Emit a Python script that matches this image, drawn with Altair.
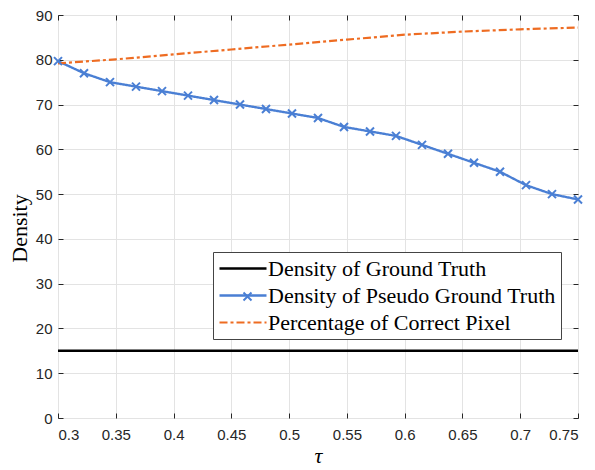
import altair as alt
import pandas as pd

# ---- data ----
series_names = ["Density of Ground Truth", "Density of Pseudo Ground Truth", "Percentage of Correct Pixel"]

tau_gt = [0.3, 0.75]
density_gt = [15, 15]

tau_pseudo = [0.3, 0.3225, 0.345, 0.3675, 0.39, 0.4125, 0.435, 0.4575, 0.48, 0.5025, 0.525,
              0.5475, 0.57, 0.5925, 0.615, 0.6375, 0.66, 0.6825, 0.705, 0.7275, 0.75]
density_pseudo = [79.7, 77, 75, 74, 73, 72, 71, 70, 69, 68, 67,
                  65, 64, 63, 61, 59, 57, 55, 52, 50, 48.8]

tau_correct = [0.3, 0.35, 0.4, 0.45, 0.5, 0.55, 0.6, 0.65, 0.7, 0.75]
pct_correct = [79.2, 80.1, 81.2, 82.3, 83.4, 84.5, 85.6, 86.3, 86.8, 87.2]

x_ticks = [0.3, 0.35, 0.4, 0.45, 0.5, 0.55, 0.6, 0.65, 0.7, 0.75]
y_ticks = [0, 10, 20, 30, 40, 50, 60, 70, 80, 90]

colors = ["#000000", "#4A7FD4", "#EE6C22"]
dashes = [[1, 0], [1, 0], [8, 3, 3, 3]]
widths = [2.5, 2.2, 2.5]

# ---- tables ----
rows = []
for t, v in zip(tau_gt, density_gt):
    rows.append({"tau": t, "value": v, "series": series_names[0]})
for t, v in zip(tau_pseudo, density_pseudo):
    rows.append({"tau": t, "value": v, "series": series_names[1]})
for t, v in zip(tau_correct, pct_correct):
    rows.append({"tau": t, "value": v, "series": series_names[2]})
lines_df = pd.DataFrame(rows)

points_df = pd.DataFrame({"tau": tau_pseudo, "value": density_pseudo,
                          "marker": ["x"] * len(tau_pseudo)})

TICK_FONT = "Liberation Sans"
SERIF = "Liberation Serif"
xscale = alt.Scale(domain=[0.3, 0.75], nice=False, zero=False)
yscale = alt.Scale(domain=[0, 90], nice=False)

line_symbol = "M-1,0H3.7"

main_legend = alt.Legend(
    title=None, orient="none", legendX=155, legendY=237,
    symbolType=line_symbol, symbolSize=400, symbolStrokeWidth=2,
    labelFont=SERIF, labelFontSize=22, labelColor="black", labelOffset=27,
    labelLimit=500, rowPadding=4, padding=5,
    fillColor="white", strokeColor="#444444", zindex=1,
)

lines = alt.Chart(lines_df).mark_line(clip=True).encode(
    x=alt.X("tau:Q", scale=xscale, axis=alt.Axis(
        values=x_ticks, format=".2~f", orient="bottom", offset=-5, tickSize=5,
        domain=False, labelPadding=9, labelFont=TICK_FONT, labelFontSize=15,
        labelColor="#262626", tickColor="#262626", grid=True, gridColor="#E3E3E3",
        title="τ", titleFont=SERIF, titleFontStyle="italic", titleFontSize=22,
        titleFontWeight="normal", titleColor="black", titlePadding=3)),
    y=alt.Y("value:Q", scale=yscale, axis=alt.Axis(
        values=y_ticks, orient="left", offset=-5, tickSize=5, domain=False,
        labelPadding=6, labelFont=TICK_FONT, labelFontSize=15, labelColor="#262626",
        tickColor="#262626", grid=True, gridColor="#E3E3E3",
        title="Density", titleFont=SERIF, titleFontSize=22, titleFontWeight="normal",
        titleColor="black", titlePadding=4, titleY=213)),
    color=alt.Color("series:N", scale=alt.Scale(domain=series_names, range=colors),
                    legend=main_legend),
    strokeDash=alt.StrokeDash("series:N", scale=alt.Scale(domain=series_names, range=dashes),
                              legend=main_legend),
    strokeWidth=alt.StrokeWidth("series:N", scale=alt.Scale(domain=series_names, range=widths),
                                legend=None),
)

x_path = "M-1,-1L1,1M-1,1L1,-1"

points = alt.Chart(points_df).mark_point(
    filled=False, color="#4A7FD4", strokeWidth=2, size=64, opacity=1
).encode(
    x=alt.X("tau:Q", scale=xscale, axis=alt.Axis(
        values=x_ticks, orient="top", offset=-5, tickSize=5, labels=False,
        domain=False, grid=False, title=None, tickColor="#262626")),
    y=alt.Y("value:Q", scale=yscale, axis=alt.Axis(
        values=y_ticks, orient="right", offset=-5, tickSize=5, labels=False,
        domain=False, grid=False, title=None, tickColor="#262626")),
    shape=alt.Shape("marker:N", scale=alt.Scale(range=[x_path]), legend=alt.Legend(
        title=None, orient="none", legendX=184.5, legendY=276.5, labelExpr="''",
        labelFontSize=8, symbolSize=64, symbolStrokeColor="#4A7FD4",
        symbolStrokeWidth=2, symbolFillColor="transparent", padding=0, zindex=2)),
)

chart = alt.layer(lines, points).resolve_axis(x="independent", y="independent").properties(
    width=520, height=403, background="white", padding=0,
).configure_view(stroke="#262626", strokeWidth=1)

chart.save("out.html", embed_options={"renderer": "svg", "actions": False})
